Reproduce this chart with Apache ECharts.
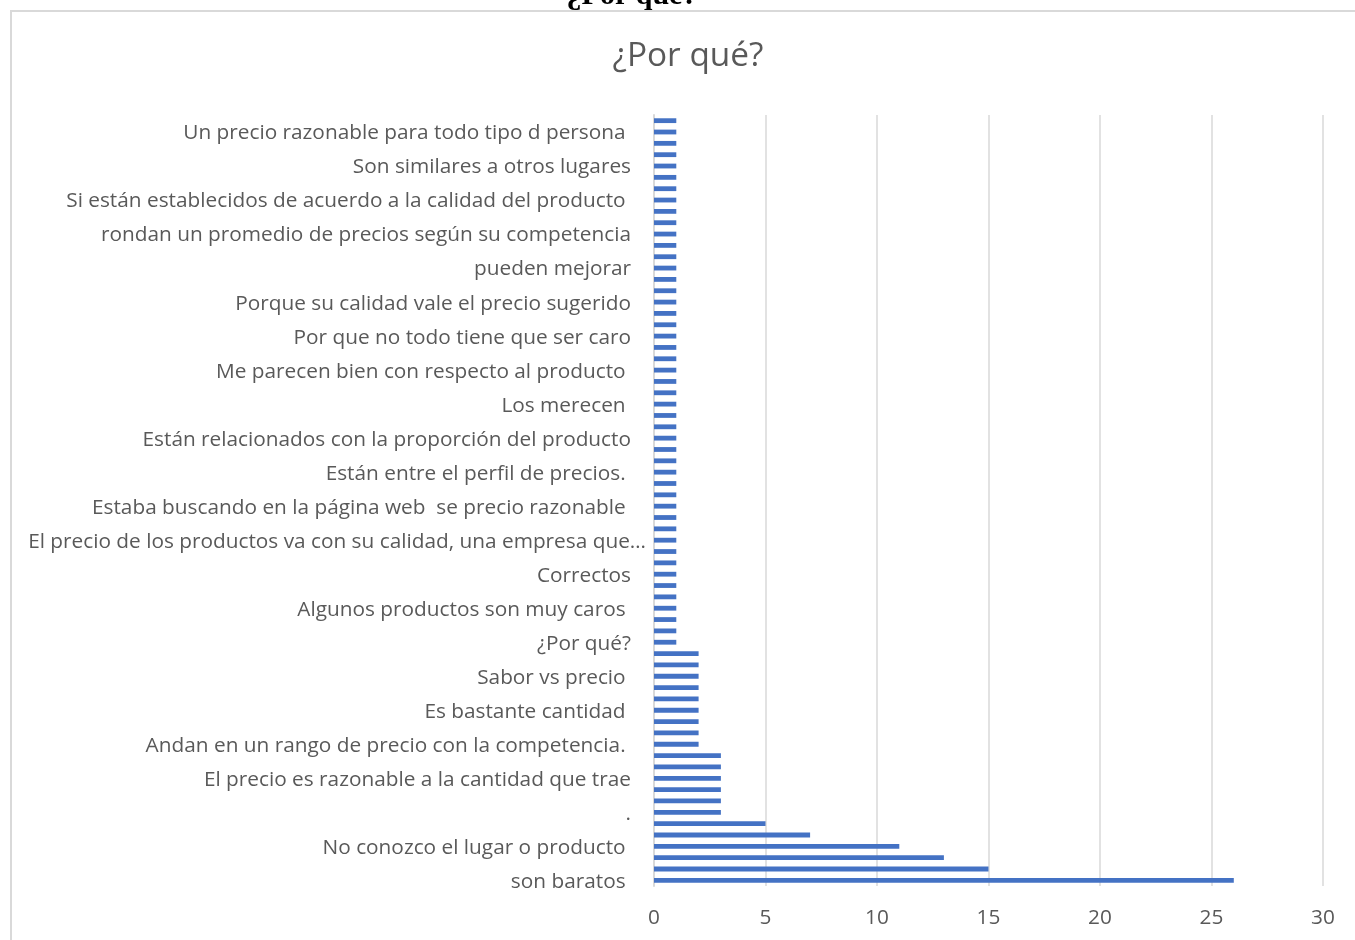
<!DOCTYPE html>
<html>
<head>
<meta charset="utf-8">
<title>¿Por qué?</title>
<script src="https://cdn.jsdelivr.net/npm/echarts@6/dist/echarts.min.js"></script>
<style>
  html, body { margin: 0; padding: 0; background: #ffffff; }
  #chart { width: 1355px; height: 940px; }
</style>
</head>
<body>
<div id="chart"></div>
<script>
// Answers to "¿Por qué?" — responses ordered from most to least frequent (bottom to top).
// Only every third category carries a visible label on the axis.
const visibleLabels = [
  'son baratos ',
  'No conozco el lugar o producto ',
  '.',
  'El precio es razonable a la cantidad que trae',
  'Andan en un rango de precio con la competencia. ',
  'Es bastante cantidad ',
  'Sabor vs precio ',
  '¿Por qué?',
  'Algunos productos son muy caros ',
  'Correctos',
  'El precio de los productos va con su calidad, una empresa que…',
  'Estaba buscando en la página web  se precio razonable ',
  'Están entre el perfil de precios. ',
  'Están relacionados con la proporción del producto',
  'Los merecen ',
  'Me parecen bien con respecto al producto ',
  'Por que no todo tiene que ser caro',
  'Porque su calidad vale el precio sugerido',
  'pueden mejorar',
  'rondan un promedio de precios según su competencia',
  'Si están establecidos de acuerdo a la calidad del producto ',
  'Son similares a otros lugares',
  'Un precio razonable para todo tipo d persona '
];

// Number of responses per category, bottom to top.
const counts = [
  26, 15, 13, 11, 7, 5,
  3, 3, 3, 3, 3, 3,
  2, 2, 2, 2, 2, 2, 2, 2, 2,
  1, 1, 1, 1, 1, 1, 1, 1, 1, 1,
  1, 1, 1, 1, 1, 1, 1, 1, 1, 1,
  1, 1, 1, 1, 1, 1, 1, 1, 1, 1,
  1, 1, 1, 1, 1, 1, 1, 1, 1, 1,
  1, 1, 1, 1, 1, 1, 1
];

const xTicks = [0, 5, 10, 15, 20, 25, 30];

const categories = counts.map((_, i) => (i % 3 === 0 && visibleLabels[i / 3] !== undefined) ? visibleLabels[i / 3] : '');

const chart = echarts.init(document.getElementById('chart'), null, { renderer: 'canvas' });

const labelFont = '"Open Sans", "Noto Sans", sans-serif';

chart.setOption({
  animation: false,
  backgroundColor: '#ffffff',
  title: {
    text: '¿Por qué?',
    left: 683,
    top: 35,
    textAlign: 'center',
    textStyle: {
      fontFamily: labelFont,
      fontSize: 33.4,
      fontWeight: 'normal',
      color: '#595959'
    }
  },
  graphic: [
    {
      type: 'rect',
      silent: true,
      shape: { x: 11, y: 11, width: 1400, height: 1000 },
      style: { fill: 'none', stroke: '#d9d9d9', lineWidth: 2 }
    },
    {
      type: 'text',
      silent: true,
      x: 632,
      y: -4,
      style: {
        text: '¿Por qué?',
        font: 'bold 30px "Liberation Serif", serif',
        fill: '#000000',
        align: 'center',
        verticalAlign: 'middle'
      }
    }
  ],
  grid: {
    left: 654,
    right: 32,
    top: 115,
    bottom: 54,
    outerBoundsMode: 'none'
  },
  xAxis: {
    type: 'value',
    min: xTicks[0],
    max: xTicks[xTicks.length - 1],
    interval: xTicks[1] - xTicks[0],
    axisLine: { show: false },
    axisTick: { show: false },
    axisLabel: {
      margin: 22,
      fontFamily: labelFont,
      fontSize: 20.8,
      color: '#595959'
    },
    splitLine: {
      show: true,
      lineStyle: { color: '#d9d9d9', width: 1.5 }
    }
  },
  yAxis: {
    type: 'category',
    data: categories,
    axisLine: { show: true, lineStyle: { color: '#d9d9d9', width: 2 } },
    axisTick: { show: false },
    splitLine: { show: false },
    axisLabel: {
      interval: 0,
      margin: 8,
      fontFamily: labelFont,
      fontSize: 20.8,
      color: '#595959',
      formatter: (value) => {
        if (!value) return '';
        return value.endsWith('…') ? '{t|' + value + '}' : '{p|' + value + '}';
      },
      rich: {
        p: { fontFamily: labelFont, fontSize: 20.8, color: '#595959', padding: [3, 15, 0, 0] },
        t: { fontFamily: labelFont, fontSize: 20.8, color: '#595959', padding: [3, 0, 0, 0] }
      }
    }
  },
  series: [
    {
      type: 'bar',
      data: counts,
      barWidth: 4.8,
      itemStyle: { color: '#4472c4' },
      silent: true
    }
  ]
});
</script>
</body>
</html>
